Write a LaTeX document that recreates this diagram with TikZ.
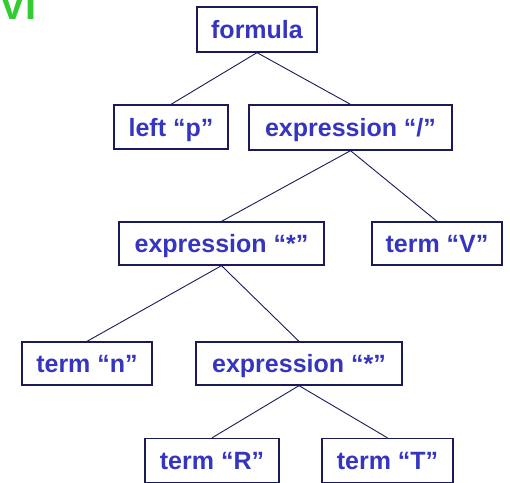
\documentclass[tikz,border=0pt]{standalone}
\usepackage{fontspec}
\setmainfont{Liberation Sans}
\definecolor{navy}{HTML}{1A1A5A}
\definecolor{txtblue}{HTML}{3535C0}
\definecolor{vgreen}{HTML}{33CC33}
\begin{document}
\begin{tikzpicture}[x=1pt,y=-1pt,
  tbox/.style={draw=navy,line width=1.3pt,fill=white,text=txtblue,
    font=\bfseries\fontsize{25}{30}\selectfont,inner sep=0pt,
    text height=18pt,text depth=0pt,
    minimum height=44pt},
  edge/.style={draw=navy,line width=0.9pt}]
\useasboundingbox (0,0) rectangle (510,482);
\clip (0,0) rectangle (510,482);
\node[anchor=base west,text=vgreen,font=\bfseries\fontsize{40}{44}\selectfont,inner sep=0pt] (vi) at (-1,19) {VI};
\node[tbox,minimum width=120pt,minimum height=45pt] (f) at (257,29.5) {formula};
\node[tbox,minimum width=114pt] (lp) at (171,127) {left “p”};
\node[tbox,minimum width=203pt,minimum height=45pt] (e1) at (350.5,127.5) {expression “/”};
\node[tbox,minimum width=205pt,minimum height=43pt] (e2) at (221.5,243.5) {expression “*”};
\node[tbox,minimum width=130pt,minimum height=43pt] (tv) at (437,243.5) {term “V”};
\node[tbox,minimum width=130pt,minimum height=43pt] (tn) at (87,363.5) {term “n”};
\node[tbox,minimum width=206pt,minimum height=43pt] (e3) at (299,363.5) {expression “*”};
\node[tbox,minimum width=134pt] (tr) at (212,460.5) {term “R”};
\node[tbox,minimum width=131pt] (tt) at (387.5,460.5) {term “T”};
\draw[edge] (f.south) -- (lp.north);
\draw[edge] (f.south) -- (e1.north);
\draw[edge] (e1.south) -- (e2.north);
\draw[edge] (e1.south) -- (tv.north);
\draw[edge] (e2.south) -- (tn.north);
\draw[edge] (e2.south) -- (e3.north);
\draw[edge] (e3.south) -- (tr.north);
\draw[edge] (e3.south) -- (tt.north);
\end{tikzpicture}
\end{document}
